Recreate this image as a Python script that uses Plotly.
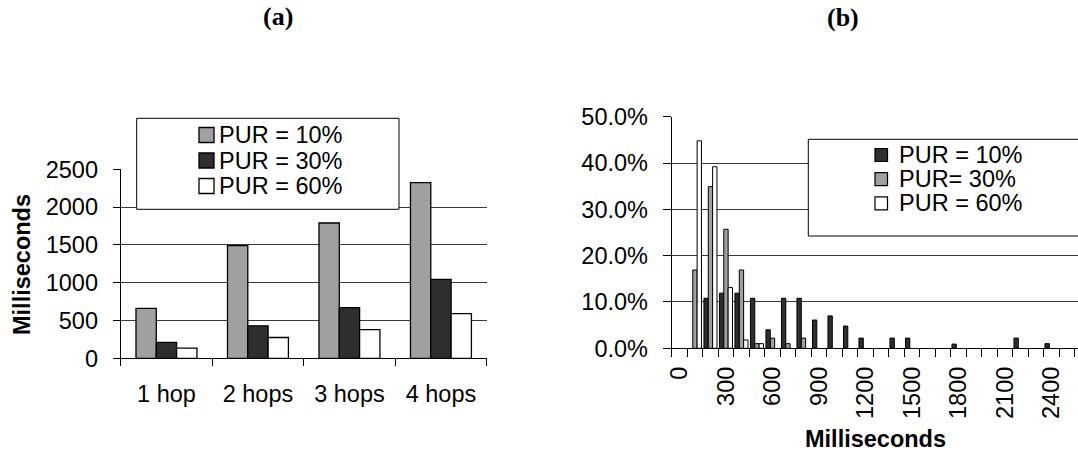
import plotly.graph_objects as go

# ---------------- data ----------------
hops = ["1 hop", "2 hops", "3 hops", "4 hops"]
a_pur10 = [660, 1490, 1790, 2325]
a_pur30 = [210, 430, 670, 1045]
a_pur60 = [135, 275, 380, 590]
a_names = ["PUR = 10%", "PUR = 30%", "PUR = 60%"]

b_ms = [0, 100, 200, 300, 400, 500, 600, 700, 800, 900, 1000, 1100, 1200,
        1300, 1400, 1500, 1600, 1700, 1800, 1900, 2000, 2100, 2200, 2300, 2400, 2500]
b_pur10 = [0, 0, 10.8, 11.9, 11.9, 10.8, 4.0, 10.8, 10.8, 6.1, 7.0, 4.8, 2.2,
           0, 2.2, 2.2, 0, 0, 0.9, 0, 0, 0, 2.2, 0, 1.0, 0]
b_pur30 = [0, 16.9, 34.9, 25.7, 16.9, 1.0, 2.2, 1.0, 2.2, 0, 0, 0, 0,
           0, 0, 0, 0, 0, 0, 0, 0, 0, 0, 0, 0, 0]
b_pur60 = [0, 44.8, 39.2, 13.1, 1.8, 1.0, 0, 0, 0, 0, 0, 0, 0,
           0, 0, 0, 0, 0, 0, 0, 0, 0, 0, 0, 0, 0]
b_names = ["PUR = 10%", "PUR= 30%", "PUR = 60%"]
b_yticks = [0, 10, 20, 30, 40, 50]
b_xticks = [0, 300, 600, 900, 1200, 1500, 1800, 2100, 2400]

# ---------------- style ----------------
W, H = 1078, 457
FONT = "Liberation Sans, Arial, sans-serif"
SERIF = "Liberation Serif, Times New Roman, serif"
GRAY = "#a0a0a0"
DARK = "#2e2e2e"
WHITE = "#ffffff"
GRID = "#3a3a3a"
FS = 23.5


def px(x):
    return x / W


def py(y):
    return 1 - y / H


fig = go.Figure()

# ---- panel (a) ----
a_colors = [GRAY, DARK, WHITE]
a_w = 0.222
a_off = [-0.333, -0.111, 0.111]
for vals, name, col, off in zip([a_pur10, a_pur30, a_pur60], a_names, a_colors, a_off):
    fig.add_trace(go.Bar(x=hops, y=vals, name=name, width=a_w, offset=off,
                         marker=dict(color=col, line=dict(color="black", width=1.3)),
                         xaxis="x", yaxis="y", showlegend=False))

# ---- panel (b) ----
b_colors = [DARK, GRAY, WHITE]
b_w = 28
b_off = [-42, -14, 14]
for vals, name, col, off in zip([b_pur10, b_pur30, b_pur60], b_names, b_colors, b_off):
    shown = [v if v > 0 else None for v in vals]  # empty bins draw nothing
    fig.add_trace(go.Bar(x=b_ms, y=shown, name=name, width=b_w, offset=off,
                         marker=dict(color=col, line=dict(color="black", width=1)),
                         xaxis="x2", yaxis="y2", showlegend=False))

axfont = dict(family=FONT, size=FS, color="black")

fig.update_layout(
    width=W, height=H,
    margin=dict(l=0, r=0, t=0, b=0),
    paper_bgcolor="white", plot_bgcolor="white",
    font=axfont,
    barmode="overlay",
    xaxis=dict(domain=[px(120.7), px(486.7)], anchor="y", type="category",
               tickson="boundaries", ticks="outside", ticklen=7, tickcolor="black",
               showline=True, linecolor="black", linewidth=1, showgrid=False,
               tickfont=axfont, ticklabelstandoff=14, automargin=False),
    yaxis=dict(domain=[py(358.3), py(169.3)], anchor="x", range=[0, 2500], dtick=500,
               ticks="outside", ticklen=7, tickcolor="black",
               showline=True, linecolor="black", linewidth=1,
               showgrid=True, gridcolor=GRID, gridwidth=1, zeroline=False,
               tickfont=axfont, ticklabelstandoff=10, automargin=False),
    xaxis2=dict(domain=[px(671.7), 1.0], anchor="y2", range=[-50, 2571],
                tickvals=b_xticks, ticktext=[str(v) for v in b_xticks], tickangle=-90,
                ticks="", showline=True, linecolor="black", linewidth=1, showgrid=False,
                zeroline=False,
                minor=dict(ticks="outside", ticklen=8, tickcolor="black", tick0=-50,
                           dtick=100, showgrid=False),
                tickfont=axfont, ticklabelstandoff=8, automargin=False),
    yaxis2=dict(domain=[py(348.3), py(116.7)], anchor="x2", range=[0, 50],
                tickvals=b_yticks, ticktext=[f"{v:.1f}%" for v in b_yticks],
                ticks="outside", ticklen=8, tickcolor="black",
                showline=True, linecolor="black", linewidth=1,
                showgrid=True, gridcolor=GRID, gridwidth=1, zeroline=False,
                tickfont=axfont, ticklabelstandoff=10, automargin=False),
)

shapes = []
annotations = []

# legend (a)
shapes.append(dict(type="rect", xref="paper", yref="paper", layer="above",
                   x0=px(136.7), x1=px(399), y0=py(209.3), y1=py(118.3),
                   fillcolor="white", line=dict(color="black", width=1)))
for i, (name, col) in enumerate(zip(a_names, a_colors)):
    cy = 135 + i * 25.5
    shapes.append(dict(type="rect", xref="paper", yref="paper", layer="above",
                       x0=px(199), x1=px(214), y0=py(cy + 7.5), y1=py(cy - 7.5),
                       fillcolor=col, line=dict(color="black", width=1.3)))
    annotations.append(dict(x=px(217), y=py(cy), xref="paper", yref="paper",
                            text=name, showarrow=False, xanchor="left", yanchor="middle",
                            font=dict(family=FONT, size=FS, color="black")))

# legend (b)
shapes.append(dict(type="rect", xref="paper", yref="paper", layer="above",
                   x0=px(808.3), x1=px(1090), y0=py(236), y1=py(139.3),
                   fillcolor="white", line=dict(color="black", width=1)))
for i, (name, col) in enumerate(zip(b_names, b_colors)):
    cy = 155 + i * 24.2
    shapes.append(dict(type="rect", xref="paper", yref="paper", layer="above",
                       x0=px(875), x1=px(887.5), y0=py(cy + 6.5), y1=py(cy - 6.5),
                       fillcolor=col, line=dict(color="black", width=1.2)))
    annotations.append(dict(x=px(897), y=py(cy), xref="paper", yref="paper",
                            text=name, showarrow=False, xanchor="left", yanchor="middle",
                            font=dict(family=FONT, size=FS, color="black")))

# titles
annotations.append(dict(x=px(278), y=py(17), xref="paper", yref="paper", text="<b>(a)</b>",
                        showarrow=False, xanchor="center", yanchor="middle",
                        font=dict(family=SERIF, size=26, color="black")))
annotations.append(dict(x=px(843), y=py(18), xref="paper", yref="paper", text="<b>(b)</b>",
                        showarrow=False, xanchor="center", yanchor="middle",
                        font=dict(family=SERIF, size=26, color="black")))
annotations.append(dict(x=px(22), y=py(265), xref="paper", yref="paper",
                        text="<b>Milliseconds</b>", textangle=-90,
                        showarrow=False, xanchor="center", yanchor="middle",
                        font=dict(family=FONT, size=FS, color="black")))
annotations.append(dict(x=px(875), y=py(439), xref="paper", yref="paper",
                        text="<b>Milliseconds</b>",
                        showarrow=False, xanchor="center", yanchor="middle",
                        font=dict(family=FONT, size=FS, color="black")))

fig.update_layout(shapes=shapes, annotations=annotations)

fig.write_html("out.html", config={"displayModeBar": False},
               post_script="document.body.style.margin='0';")
